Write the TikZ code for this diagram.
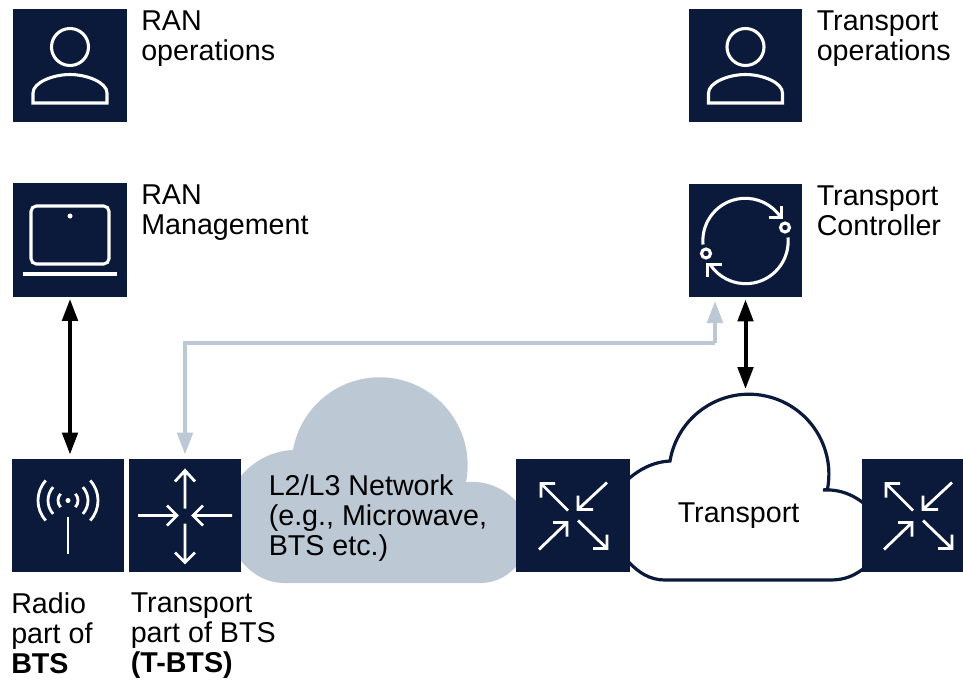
\documentclass[tikz,border=0pt]{standalone}
\usepackage{fontspec}
\setmainfont{Liberation Sans}
\usetikzlibrary{arrows.meta}
\definecolor{navy}{HTML}{0B1A3A}
\definecolor{mist}{HTML}{BCC8D4}
\tikzset{
  sq/.style={fill=navy,inner sep=0pt,minimum width=85pt,minimum height=85pt},
  lab/.style={anchor=north west,inner sep=0pt,align=left,font=\fontsize{21.5pt}{22.5pt}\selectfont},
  ico/.style={draw=white,line width=2.3pt},
  icoth/.style={draw=white,line width=2.1pt},
  blackarrow/.style={line width=3pt,black,{Triangle[width=11.5pt,length=16.5pt]}-{Triangle[width=11.5pt,length=16.5pt]},shorten <=1.5pt,shorten >=3pt},
  mistline/.style={line width=3pt,mist,-{Triangle[width=11.5pt,length=16.5pt]},shorten >=3pt},
  personicon/.pic={
    \draw[ico] (0,-18.5) circle (18.5);
    \draw[ico] (-37,37.5) -- (-37,27.5) .. controls (-37,17) and (-17,9) .. (0,9) .. controls (17,9) and (37,17) .. (37,27.5) -- (37,37.5) -- cycle;
  },
  laptopicon/.pic={
    \draw[ico,rounded corners=4pt] (-39,-34) rectangle (39,24);
    \fill[white] (0,-24) circle (2.5);
    \draw[ico] (-47,34) -- (47,34);
  },
  cycleicon/.pic={
    \draw[ico] (-42.5,4) arc[start angle=175,end angle=327,radius=42.5];
    \draw[ico] (23,-23) -- (36,-23) -- (36,-35);
    \draw[ico] (39.5,-13) circle (4.5);
    \draw[ico] (42.5,-3) arc[start angle=-5,end angle=147,radius=42.5];
    \draw[ico] (-38,36) -- (-38,24) -- (-24,24);
    \draw[ico] (-39.5,13) circle (4.5);
  },
  antennaicon/.pic={
    \fill[white] (0,-15) circle (2.5);
    \foreach \r in {10,20,30}{
      \draw[icoth] (-42:\r) ++(0,-15) arc[start angle=-42,end angle=42,radius=\r];
      \draw[icoth] (222:\r) ++(0,-15) arc[start angle=222,end angle=138,radius=\r];
    }
    \draw[icoth] (0,1) -- (0,38);
  },
  flowicon/.pic={
    \draw[icoth] (0,-7) -- (0,-45) (-10,-34) -- (0,-45) -- (10,-34);
    \draw[icoth] (0,8) -- (0,47) (-10,37) -- (0,47) -- (10,37);
    \draw[icoth] (-47,0) -- (-8,0) (-18,-10) -- (-8,0) -- (-18,10);
    \draw[icoth] (47,0) -- (8,0) (18,-10) -- (8,0) -- (18,10);
  },
  routericon/.pic={
    \draw[icoth] (-5,-5) -- (-32,-32) (-32,-18) -- (-32,-32) -- (-18,-32);
    \draw[icoth] (34,-33) -- (5,-6) (5,-20) -- (5,-6) -- (20,-6);
    \draw[icoth] (-34,34) -- (-6,7) (-20,7) -- (-6,7) -- (-6,21);
    \draw[icoth] (5,5) -- (34,33) (34,19) -- (34,33) -- (20,33);
  }
}
\begin{document}
\begin{tikzpicture}[x=0.75pt,y=-0.75pt]
\useasboundingbox (0,0) rectangle (963,681);
\fill[white] (0,0) rectangle (963,681);
% clouds
\fill[mist] (238,480) .. controls (250,463) and (270,451) .. (293,450)
  arc[start angle=190,end angle=371,radius=88]
  .. controls (488,480) and (508,490) .. (520,506)
  -- (520,562) .. controls (510,575) and (497,583) .. (480,583)
  -- (285,583) .. controls (265,583) and (250,573) .. (238,557) -- cycle;
\draw[fill=white,draw=navy,line width=2.4pt] (625,482)
  .. controls (638,470) and (652,462) .. (670,461)
  arc[start angle=189.5,end angle=371,radius=80]
  -- (823,490)
  .. controls (840,489) and (855,495) .. (868,507)
  -- (868,565) .. controls (855,576) and (845,580) .. (830,580)
  -- (665,580) .. controls (650,580) and (638,573) .. (625,558) -- cycle;
\coordinate (cloudtop) at (745.5,393);
% squares
\node[sq] (ranops) at (70,65.5) {};
\node[sq] (ranmgmt) at (70,240) {};
\node[sq] (trops) at (745.5,65.5) {};
\node[sq] (ctrl) at (745.5,240.5) {};
\node[sq,minimum width=84pt] (bts) at (68,515.5) {};
\node[sq,minimum width=84pt] (tbts) at (185,515.5) {};
\node[sq] (rtra) at (573,515.5) {};
\node[sq,minimum width=76pt,anchor=west] (rtrb) at (862,515.5) {};
% icons
\pic at (ranops.center) {personicon};
\pic at (trops.center) {personicon};
\pic at (ranmgmt.center) {laptopicon};
\pic at (ctrl.center) {cycleicon};
\pic at (bts.center) {antennaicon};
\pic at (tbts.center) {flowicon};
\pic at (rtra.center) {routericon};
\pic at (918,515.5) {routericon};
% connectors
\draw[blackarrow] (ranmgmt.south) -- (ranmgmt.south |- bts.north);
\draw[blackarrow] (ctrl.south) -- (cloudtop);
\coordinate (gtip) at (715,297);
\coordinate (gbend) at (715,343);
\draw[mistline] (gbend) -- (gtip);
\draw[mistline] (gbend) -- (tbts.north |- gbend) -- (tbts.north);
% labels
\node[lab] (l1) at (141,10.5) {RAN\\operations};
\node[lab] (l2) at (816.5,10.5) {Transport\\operations};
\node[lab] (l3) at (141,184.5) {RAN\\Management};
\node[lab] (l4) at (816.5,185.5) {Transport\\Controller};
\node[lab] (l5) at (268.5,474.5) {L2/L3 Network\\(e.g., Microwave,\\BTS etc.)};
\node[lab] (l6) at (677.5,502.5) {Transport};
\node[lab] (l7) at (11,592.5) {Radio\\part of\\\textbf{BTS}};
\node[lab] (l8) at (130.5,592.5) {Transport\\part of BTS\\\textbf{(T-BTS)}};
\end{tikzpicture}
\end{document}
